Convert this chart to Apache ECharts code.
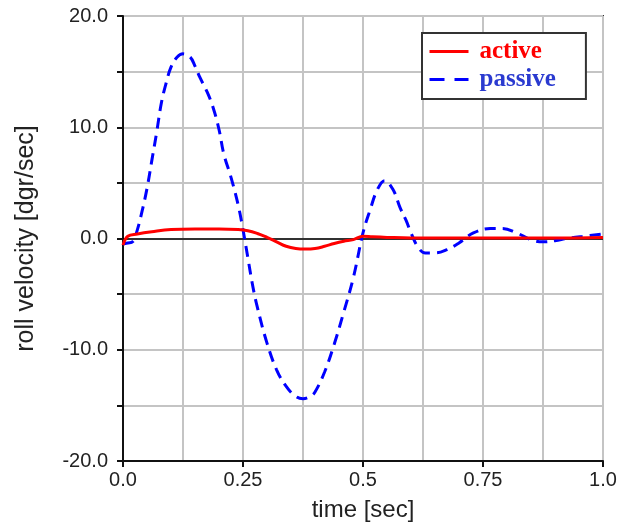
<!DOCTYPE html>
<html><head><meta charset="utf-8">
<script src="https://cdn.jsdelivr.net/npm/echarts@6/dist/echarts.min.js"></script>
<style>html,body{margin:0;padding:0;background:#fff}#c{width:628px;height:525px}</style>
</head><body><div id="c"></div>
<script>
var passiveT = [0, 0.01, 0.02, 0.03, 0.04, 0.05, 0.06, 0.07, 0.08, 0.09, 0.1, 0.1125, 0.125, 0.14, 0.15, 0.16, 0.175, 0.1875, 0.2, 0.21, 0.225, 0.24, 0.25, 0.26, 0.27, 0.28, 0.3, 0.32, 0.34, 0.36, 0.375, 0.39, 0.4, 0.42, 0.44, 0.46, 0.48, 0.5, 0.515, 0.53, 0.545, 0.5625, 0.577, 0.59, 0.6, 0.615, 0.63, 0.65, 0.675, 0.7, 0.73, 0.765, 0.79, 0.82, 0.85, 0.875, 0.9, 0.925, 0.96, 1.0];
var passiveV = [-0.5, -0.4, -0.3, 0.8, 2.5, 4.5, 7.0, 9.5, 12.2, 14.0, 15.4, 16.3, 16.6, 16.3, 15.5, 14.5, 13.2, 11.8, 9.8, 7.6, 5.5, 3.0, 0.8, -1.7, -4.2, -6.2, -9.4, -11.8, -13.3, -14.2, -14.4, -14.2, -13.8, -12.0, -9.5, -6.6, -3.5, 0.5, 2.6, 4.4, 5.2, 4.4, 2.8, 1.6, 0.5, -0.8, -1.3, -1.3, -1.0, -0.4, 0.5, 0.9, 0.9, 0.5, -0.1, -0.3, -0.2, 0.0, 0.2, 0.4];
var activeT = [0, 0.01, 0.03, 0.06, 0.1, 0.15, 0.2, 0.24, 0.26, 0.28, 0.3, 0.32, 0.34, 0.36, 0.38, 0.4, 0.42, 0.44, 0.46, 0.48, 0.5, 0.52, 0.55, 0.6, 0.7, 0.8, 0.9, 1.0];
var activeV = [-0.6, 0.2, 0.4, 0.6, 0.8, 0.85, 0.85, 0.8, 0.7, 0.45, 0.1, -0.3, -0.7, -0.9, -0.95, -0.9, -0.7, -0.45, -0.25, -0.1, 0.2, 0.15, 0.1, 0.05, 0.05, 0.05, 0.05, 0.1];
var xLabels = {0: '0.0', 0.25: '0.25', 0.5: '0.5', 0.75: '0.75', 1: '1.0'};
var seriesNames = ['active', 'passive'];

function pairs(t, v) { return t.map(function (x, i) { return [x, v[i]]; }); }

var chart = echarts.init(document.getElementById('c'));
var tickFont = {fontFamily: 'Liberation Sans', fontSize: 20, color: '#222'};
chart.setOption({
  animation: false,
  grid: {left: 123, right: 25, top: 16, bottom: 64, outerBoundsMode: 'none', containLabel: false,
    show: true, borderColor: '#333', borderWidth: 2, backgroundColor: '#fff'},
  legend: {
    data: [
      {name: seriesNames[0], textStyle: {color: '#ff0000'}, lineStyle: {width: 3, type: 'solid'}},
      {name: seriesNames[1], textStyle: {color: '#2a3ad0'}, lineStyle: {width: 3, type: [15, 10]}}
    ],
    orient: 'vertical', left: 422, top: 33,
    backgroundColor: '#fff', borderColor: '#333', borderWidth: 2,
    padding: [6, 30, 7, 6], itemWidth: 39, itemHeight: 12, itemGap: 3,
    itemStyle: {color: 'rgba(0,0,0,0)', borderWidth: 0},
    textStyle: {fontFamily: 'Liberation Serif', fontWeight: 'bold', fontSize: 25, padding: [0, 0, 0, 6]}
  },
  xAxis: [{
    type: 'value', min: 0, max: 1, interval: 0.125,
    axisLine: {show: false}, axisTick: {show: false}, axisLabel: {show: false},
    splitLine: {show: true, lineStyle: {color: '#c4c4c4', width: 2}}
  }, {
    type: 'value', min: 0, max: 1, interval: 0.25, position: 'bottom',
    name: 'time [sec]', nameLocation: 'middle', nameGap: 37,
    nameTextStyle: {fontFamily: 'Liberation Sans', fontSize: 24, color: '#222'},
    axisLine: {show: true, onZero: false, lineStyle: {color: '#111', width: 2}},
    axisTick: {show: true, length: 6, lineStyle: {color: '#111', width: 2}},
    axisLabel: Object.assign({margin: 9, formatter: function (v) { return xLabels[v] !== undefined ? xLabels[v] : ''; }}, tickFont),
    splitLine: {show: false}
  }],
  yAxis: {
    type: 'value', min: -20, max: 20, interval: 5,
    name: 'roll velocity [dgr/sec]', nameLocation: 'middle', nameGap: 84,
    nameTextStyle: {fontFamily: 'Liberation Sans', fontSize: 25, color: '#222'},
    axisLine: {show: true, onZero: false, lineStyle: {color: '#111', width: 2}},
    axisTick: {show: true, length: 6, lineStyle: {color: '#111', width: 2}},
    axisLabel: Object.assign({margin: 15, formatter: function (v) { return v % 10 === 0 ? v.toFixed(1) : ''; }}, tickFont),
    splitLine: {show: true, lineStyle: {color: '#c4c4c4', width: 2}}
  },
  series: [{
    name: seriesNames[1], type: 'line', xAxisIndex: 0, data: pairs(passiveT, passiveV),
    smooth: 0.4, symbol: 'none', z: 3,
    lineStyle: {color: '#0000ff', width: 3, type: [11, 7]}, itemStyle: {color: '#0000ff'}
  }, {
    name: seriesNames[0], type: 'line', xAxisIndex: 0, data: pairs(activeT, activeV),
    smooth: 0.4, symbol: 'none', z: 4,
    lineStyle: {color: '#ff0000', width: 3}, itemStyle: {color: '#ff0000'},
    markLine: {silent: true, symbol: 'none', label: {show: false}, z: 2,
      lineStyle: {color: '#000', width: 1.5, type: 'solid'}, data: [{yAxis: 0}]}
  }]
});
</script></body></html>
